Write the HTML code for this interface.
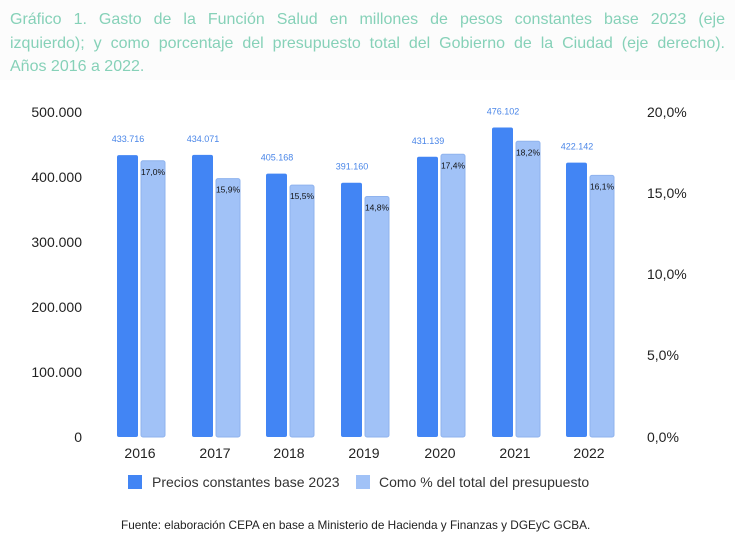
<!DOCTYPE html>
<html><head><meta charset="utf-8"><style>
body{margin:0;background:#fff;}
.t{position:absolute;left:0;top:0;width:735px;height:80px;background:#fcfcfc;}
.tt{position:absolute;left:10px;width:715px;font-family:"Liberation Sans",sans-serif;font-size:16px;line-height:23.5px;color:#86d1b8;white-space:nowrap;}
.j{text-align:justify;text-align-last:justify;}
</style></head><body>
<div style="position:relative;width:735px;height:543px;overflow:hidden">
<div class="t"></div>
<div class="tt j" style="top:8px">Gráfico 1. Gasto de la Función Salud en millones de pesos constantes base 2023 (eje</div>
<div class="tt j" style="top:32px">izquierdo); y como porcentaje del presupuesto total del Gobierno de la Ciudad (eje derecho).</div>
<div class="tt" style="top:55px">Años 2016 a 2022.</div>
<svg width="735" height="543" style="position:absolute;left:0;top:0" font-family="Liberation Sans, sans-serif">
<g font-size="14" fill="#222" text-anchor="end">
<text x="82" y="117">500.000</text><text x="82" y="182">400.000</text><text x="82" y="247">300.000</text>
<text x="82" y="312">200.000</text><text x="82" y="377">100.000</text><text x="82" y="442">0</text>
</g>
<g font-size="14" fill="#222" text-anchor="start">
<text x="647" y="117">20,0%</text><text x="647" y="198">15,0%</text><text x="647" y="279">10,0%</text>
<text x="647" y="360">5,0%</text><text x="647" y="442">0,0%</text>
</g>
<g id="bars"></g>
<g font-size="14" fill="#222" text-anchor="middle">
<text x="140" y="458">2016</text><text x="215" y="458">2017</text><text x="289" y="458">2018</text><text x="364" y="458">2019</text><text x="440" y="458">2020</text><text x="515" y="458">2021</text><text x="589" y="458">2022</text>
</g>
<rect x="128" y="475" width="14" height="14" fill="#4285f4"/>
<text x="152" y="487" font-size="14" fill="#333">Precios constantes base 2023</text>
<rect x="356" y="475" width="14" height="14" fill="#a1c2f7"/>
<text x="379" y="487" font-size="14" fill="#333">Como % del total del presupuesto</text>
<text x="121" y="529" font-size="11.8" fill="#222">Fuente: elaboración CEPA en base a Ministerio de Hacienda y Finanzas y DGEyC  GCBA.</text>
</svg>
<script>
var d=[433716,434071,405168,391160,431139,476102,422142],p=[17.0,15.9,15.5,14.8,17.4,18.2,16.1],
dl=["433.716","434.071","405.168","391.160","431.139","476.102","422.142"],c=[140,215,289,364,440,515,589],s="";
for(var i=0;i<7;i++){var t=437-d[i]/500000*325,u=437-p[i]/20*325;
s+='<rect x="'+(c[i]-23)+'" y="'+t+'" width="21" height="'+(437-t)+'" rx="2" fill="#4285f4"/>';
s+='<rect x="'+(c[i]+1)+'" y="'+u+'" width="24" height="'+(437-u)+'" rx="2" fill="#a1c2f7" stroke="#8fb3ee" stroke-width="1"/>';
s+='<text x="'+(c[i]-12)+'" y="'+(t-13)+'" font-size="9" fill="#4a86e8" text-anchor="middle">'+dl[i]+'</text>';
s+='<text x="'+(c[i]+13)+'" y="'+(u+14)+'" font-size="8.5" fill="#111" text-anchor="middle">'+p[i].toFixed(1).replace(".",",")+'%</text>';}
document.getElementById("bars").innerHTML=s;
</script>
</div></body></html>
